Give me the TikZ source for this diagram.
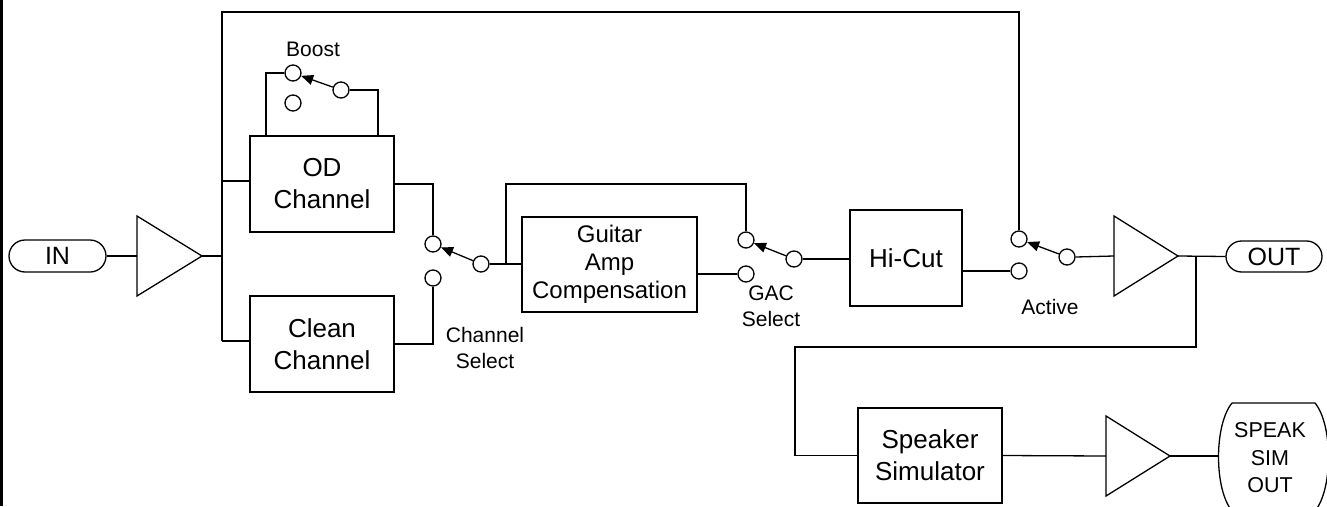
\documentclass[tikz,border=0pt]{standalone}
\usepackage{fontspec}
\setmainfont{Liberation Sans}
\usetikzlibrary{arrows.meta,shapes.misc}
\tikzset{
  wire/.style={line width=1.3pt, line join=miter},
  box/.style={draw, line width=1.3pt, fill=white, inner sep=0pt, align=center,
    font=\fontsize{26}{32}\selectfont},
  term/.style={draw, line width=1.3pt, rounded rectangle, inner sep=0pt,
    font=\fontsize{25}{28}\selectfont},
  sw/.style={circle, draw, line width=1.3pt, fill=white, minimum size=16pt, inner sep=0pt},
  lbl/.style={inner sep=0pt, align=center, font=\fontsize{21}{26}\selectfont},
  lever/.style={line width=1.3pt, -{Triangle[length=12pt,width=10pt]}},
  amp/.style={line width=1.3pt, line join=miter, fill=white}
}
\begin{document}
\begin{tikzpicture}[x=1pt,y=-1pt]
\useasboundingbox (0,0) rectangle (1327,506);
\fill[white] (0,0) rectangle (1327,506);
\begin{scope}
\clip (0,0) rectangle (1327,506);
\fill[black] (0,0) rectangle (3,506);

% terminals
\node[term, minimum width=97pt, minimum height=32pt] (in) at (57.5,256) {IN};
\node[term, minimum width=96pt, minimum height=31pt] (out) at (1274,256.5) {OUT};

% amplifiers
\coordinate (a1in) at (137,256); \coordinate (a1out) at (202,256);
\draw[amp] (137,216) -- (202,256) -- (137,296) -- cycle;
\coordinate (a2in) at (1114,256); \coordinate (a2out) at (1178,256);
\draw[amp] (1114,216) -- (1178,256) -- (1114,296) -- cycle;
\coordinate (a3in) at (1106,456); \coordinate (a3out) at (1170,456);
\draw[amp] (1106,416) -- (1170,456) -- (1106,496) -- cycle;

% boxes
\node[box, minimum width=144pt, minimum height=96pt] (od) at (322,184) {OD\\Channel};
\node[box, minimum width=144pt, minimum height=96pt] (clean) at (322,344) {Clean\\Channel};
\node[box, minimum width=175pt, minimum height=95pt, font=\fontsize{24}{28}\selectfont] (gac) at (609.5,264.5) {Guitar\\Amp\\Compensation};
\node[box, minimum width=112pt, minimum height=96pt] (hicut) at (906,258) {Hi-Cut};
\node[box, minimum width=144pt, minimum height=95pt] (spk) at (930,455.5) {Speaker\\Simulator};

% speaker sim out terminal
\draw[line width=1.3pt] (1232,403) -- (1315,403) .. controls (1333,425) and (1333,489) .. (1315,511)
  -- (1232,511) .. controls (1214,489) and (1214,425) .. (1232,403);
\node[inner sep=0pt, align=center, font=\fontsize{21.5}{27.5}\selectfont] (speak) at (1270,458) {SPEAK\\SIM\\OUT};
\coordinate (speakin) at (1218,456);

% switches
\node[sw] (b1) at (293,73) {};
\node[sw] (b2) at (293,103) {};
\node[sw] (bp) at (341,90) {};
\node[sw] (cs1) at (433,244) {};
\node[sw] (cs2) at (433,278) {};
\node[sw] (csp) at (481,264) {};
\node[sw] (gs1) at (746,240) {};
\node[sw] (gs2) at (746,274) {};
\node[sw] (gsp) at (794,259) {};
\node[sw] (act1) at (1019,239) {};
\node[sw] (act2) at (1019,271) {};
\node[sw] (actp) at (1067,257) {};

% labels
\node[lbl] (lboost) at (313,49) {Boost};
\node[lbl] (lcs) at (485,348) {Channel\\Select};
\node[lbl] (lgs) at (771,306) {GAC\\Select};
\node[lbl] (lact) at (1050,307) {Active};

% levers
\draw[lever] (bp) -- (b1);
\draw[lever] (csp) -- (cs1);
\draw[lever] (gsp) -- (gs1);
\draw[lever] (actp) -- (act1);

% wiring
\coordinate (bus1) at (222,181);
\coordinate (busm) at (222,256);
\coordinate (bus2) at (222,341);
\coordinate (topL) at (222,12);
\coordinate (topR) at (1019,12);
\coordinate (j1) at (506,264);
\coordinate (j1t) at (506,184);
\coordinate (j2) at (1196,256);
\coordinate (j3) at (795,347);

\draw[wire] (in.east) -- (a1in);
\draw[wire] (a1out) -- (busm);
\draw[wire] (bus1) -- (bus2);
\draw[wire] (bus1) -- (bus1 -| od.west);
\draw[wire] (bus2) -- (bus2 -| clean.west);
\draw[wire] (bus1) -- (topL) -- (topR) -- (act1.north);
\draw[wire] (b1.west) -| ([xshift=-56pt]od.north);
\draw[wire] (bp.east) -| ([xshift=56pt]od.north);
\draw[wire] (od.east) -| (cs1.north);
\draw[wire] (clean.east) -| (cs2.south);
\draw[wire] (csp.east) -- (csp.east -| gac.west);
\draw[wire] (j1) -- (j1t) -| (gs1.north);
\draw[wire] (gs2.west) -- (gs2.west -| gac.east);
\draw[wire] (gsp.east) -- (gsp.east -| hicut.west);
\draw[wire] (act2.west) -- (act2.west -| hicut.east);
\draw[wire] (actp.east) -- (a2in);
\draw[wire] (a2out) -- (out.west);
\draw[wire] (j2) |- (j3) |- (spk.west);
\draw[wire] (spk.east) -- (a3in);
\draw[wire] (a3out) -- (speakin);
\end{scope}
\end{tikzpicture}
\end{document}
